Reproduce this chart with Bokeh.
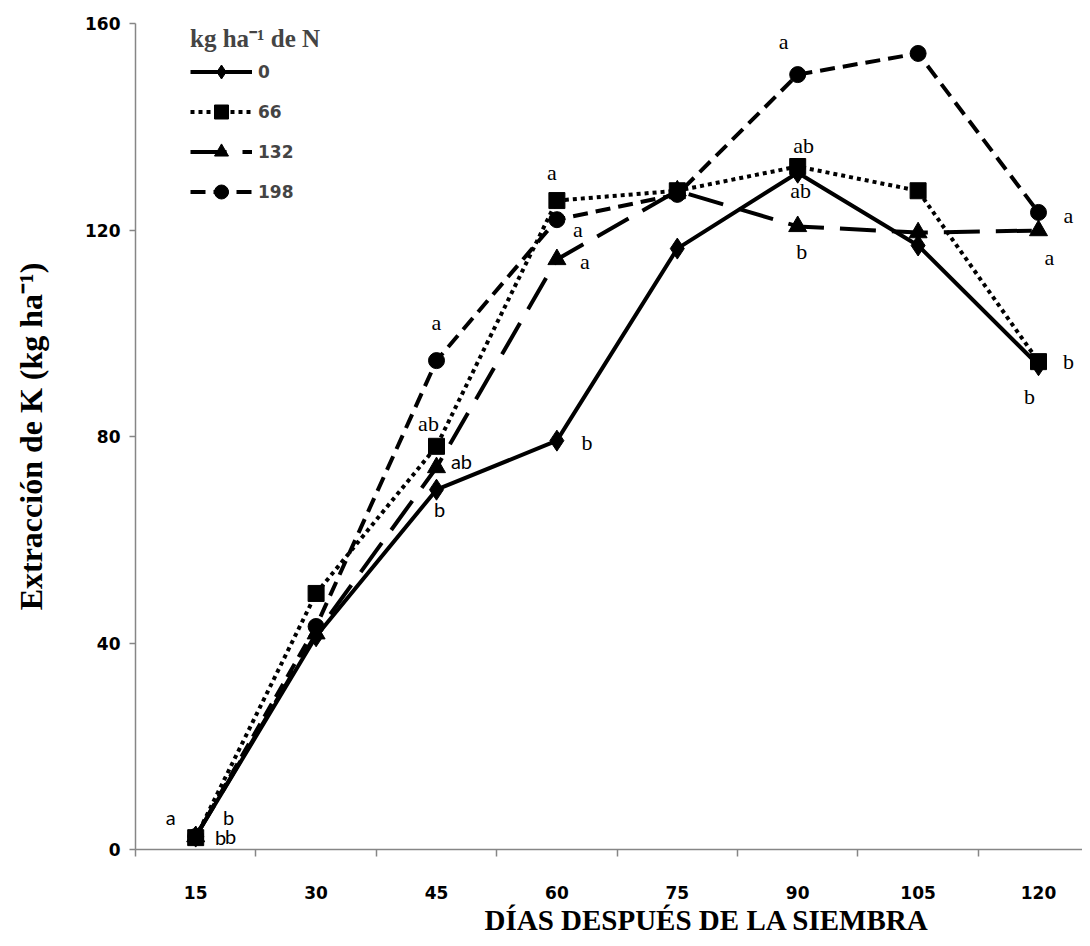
import math
from bokeh.plotting import figure
from bokeh.models import ColumnDataSource, Range1d, FixedTicker, Legend, LegendItem, Title
from bokeh.embed import file_html
from bokeh.resources import INLINE

# ---------------- data ----------------
days = ["15", "30", "45", "60", "75", "90", "105", "120"]
doses = ["0", "66", "132", "198"]

k_0 = [2.5, 41.3, 69.7, 79.2, 116.4, 131.1, 117.0, 93.8]
k_66 = [2.3, 49.6, 78.1, 125.7, 127.6, 132.3, 127.6, 94.5]
k_132 = [2.5, 41.8, 74.0, 114.3, 127.6, 120.7, 119.5, 119.9]
k_198 = [2.5, 43.2, 94.7, 122.0, 126.9, 150.1, 154.2, 123.4]

letters_0 = ["a", None, "b", "b", None, "ab", None, "b"]
letters_66 = ["b", None, "ab", "a", None, "ab", None, "b"]
letters_132 = ["b", None, "ab", "a", None, "b", None, "a"]
letters_198 = ["b", None, "a", "a", None, "a", None, "a"]

y_ticks = [0, 40, 80, 120, 160]
legend_title = "kg ha\u207b\u00b9 de N"
x_title = "DÍAS DESPUÉS DE LA SIEMBRA"
y_title = "Extracción de K (kg ha\u207b\u00b9)"

series_values = {"0": k_0, "66": k_66, "132": k_132, "198": k_198}
series_letters = {"0": letters_0, "66": letters_66, "132": letters_132, "198": letters_198}

# ---------------- styles / layout ----------------
styles = {
    "0": dict(marker="diamond", size=21, dash="solid"),
    "66": dict(marker="square", size=16, dash="4 4"),
    "132": dict(marker="triangle", size=18, dash="36 16"),
    "198": dict(marker="circle", size=16, dash="15 8"),
}
# pixel offsets (dx, dy) of significance letters, per series and day index
label_offsets = {
    "0": {0: (-25, -20), 2: (3, 19), 3: (30, 2), 5: (3, 18), 7: (-9, 31)},
    "66": {0: (25, -1), 2: (-8, -23), 3: (-5, -28), 5: (6, -21), 7: (30, 0)},
    "132": {0: (35, -1), 2: (25, -6), 3: (28, 2), 5: (4, 25), 7: (11, 27)},
    "198": {0: (33, -20), 2: (0, -38), 3: (21, 10), 5: (-14, -33), 7: (30, 3)},
}
sans_labels = {("0", 0), ("66", 0), ("132", 0), ("198", 0), ("0", 2), ("132", 2)}

AXIS_GRAY = "#868686"
SERIF = "Liberation Serif"
TICK_FONT = "DejaVu Sans"
LETTER_SANS = "Lato"

xs = list(range(1, len(days) + 1))

p = figure(width=1082, height=938, output_backend="svg", toolbar_location=None,
           x_range=Range1d(0.5, 0.5 + 947 / 120.4), y_range=Range1d(0, 160),
           min_border_left=135, min_border_right=0, min_border_top=23, min_border_bottom=89)
p.outline_line_color = None
p.xgrid.visible = False
p.ygrid.visible = False
p.background_fill_color = "white"

# x axis
p.xaxis.ticker = FixedTicker(ticks=xs, minor_ticks=[x - 0.5 for x in xs])
p.xaxis.major_label_overrides = {x: d for x, d in zip(xs, days)}
p.xaxis.major_tick_line_color = None
p.xaxis.major_tick_out = 0
p.xaxis.major_tick_in = 0
p.xaxis.minor_tick_line_color = AXIS_GRAY
p.xaxis.minor_tick_line_width = 1.5
p.xaxis.minor_tick_out = 7
p.xaxis.minor_tick_in = 0
p.xaxis.axis_line_color = AXIS_GRAY
p.xaxis.axis_line_width = 1.5
p.xaxis.major_label_standoff = 29
p.xaxis.major_label_text_font = TICK_FONT
p.xaxis.major_label_text_font_style = "bold"
p.xaxis.major_label_text_font_size = "17px"
p.xaxis.major_label_text_color = "black"

# y axis
p.yaxis.ticker = FixedTicker(ticks=y_ticks, minor_ticks=[])
p.yaxis.major_tick_line_color = AXIS_GRAY
p.yaxis.major_tick_line_width = 1.5
p.yaxis.major_tick_out = 6
p.yaxis.major_tick_in = 0
p.yaxis.minor_tick_line_color = None
p.yaxis.axis_line_color = AXIS_GRAY
p.yaxis.axis_line_width = 1.5
p.yaxis.major_label_standoff = 9
p.yaxis.major_label_text_font = TICK_FONT
p.yaxis.major_label_text_font_style = "bold"
p.yaxis.major_label_text_font_size = "17px"
p.yaxis.major_label_text_color = "black"
p.yaxis.axis_label = y_title
p.yaxis.axis_label_text_font = SERIF
p.yaxis.axis_label_text_font_style = "bold"
p.yaxis.axis_label_text_font_size = "32px"
p.yaxis.axis_label_text_color = "black"
p.yaxis.axis_label_standoff = 33

items = []
for d in doses:
    st = styles[d]
    vals = series_values[d]
    src = ColumnDataSource(dict(x=xs, y=vals))
    lr = p.line("x", "y", source=src, line_color="black", line_width=4,
                line_dash=st["dash"], line_join="round")
    sr = p.scatter("x", "y", source=src, marker=st["marker"], size=st["size"],
                   fill_color="black", line_color="black")
    items.append(LegendItem(label=d, renderers=[lr, sr]))

# significance letters
lx, ly, lt, ldx, ldy, lf, ls = [], [], [], [], [], [], []
for d in doses:
    for i, letter in enumerate(series_letters[d]):
        if letter is None:
            continue
        dx, dy = label_offsets[d][i]
        lx.append(xs[i]); ly.append(series_values[d][i]); lt.append(letter)
        ldx.append(dx); ldy.append(dy)
        if (d, i) in sans_labels:
            lf.append(LETTER_SANS); ls.append("20px")
        else:
            lf.append(SERIF); ls.append("22px")
lsrc = ColumnDataSource(dict(x=lx, y=ly, t=lt, dx=ldx, dy=ldy, font=lf, size=ls))
p.text("x", "y", text="t", x_offset="dx", y_offset="dy", text_font="font",
       text_font_size="size", text_align="center", text_baseline="middle",
       text_color="black", source=lsrc)

legend = Legend(items=items, location=(55, 640), glyph_width=62, glyph_height=35,
                spacing=5, padding=0, margin=0, label_standoff=6,
                label_text_font=TICK_FONT, label_text_font_style="bold",
                label_text_font_size="17px", label_height=35,
                title=legend_title, title_text_font=SERIF, title_text_font_style="bold",
                title_text_font_size="25px", title_standoff=0,
                border_line_alpha=0, background_fill_alpha=0)
p.add_layout(legend, "center")

p.add_layout(Title(text=x_title, align="left", offset=349, standoff=0,
                   text_font=SERIF, text_font_style="bold", text_font_size="29px",
                   text_color="black"), "below")

open("out.html", "w").write(file_html(p, INLINE))
